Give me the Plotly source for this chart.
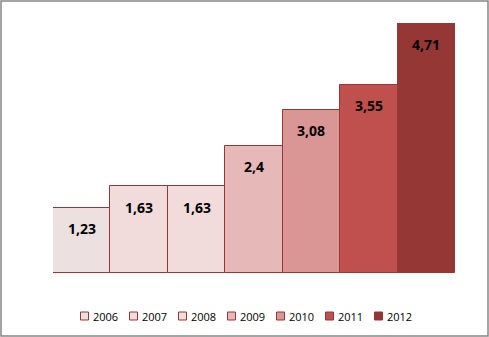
import plotly.graph_objects as go

years = ["2006", "2007", "2008", "2009", "2010", "2011", "2012"]
values = [1.23, 1.63, 1.63, 2.4, 3.08, 3.55, 4.71]
labels = ["1,23", "1,63", "1,63", "2,4", "3,08", "3,55", "4,71"]
colors = ["#ECE0E0", "#F2DCDB", "#F2DCDB", "#E6B9B8", "#D99694", "#C0504D", "#953735"]
outline = "#953735"

W, H = 489, 337
ml, mr, mt, mb = 53, 34, 23, 64
pw = W - ml - mr
ph = H - mt - mb


def px_x(p):
    return (p - ml) / pw


def px_y(p):
    return (H - mb - p) / ph


fig = go.Figure()
for i, (yr, v, c) in enumerate(zip(years, values, colors)):
    fig.add_trace(go.Bar(
        x=[i], y=[v], name=yr, width=1,
        marker=dict(color=c, line=dict(color=outline, width=1)),
        hoverinfo="skip", showlegend=False,
    ))
    fig.add_annotation(x=i, y=v, text="<b>%s</b>" % labels[i], showarrow=False,
                       yshift=-21, yanchor="middle",
                       font=dict(family="Open Sans", size=14, color="#000000"))
    # legend entry (manual, compact like the original)
    lx = 80 + 49 * i
    fig.add_shape(type="rect", xref="paper", yref="paper",
                  x0=px_x(lx + 0.5), x1=px_x(lx + 8.5),
                  y0=px_y(320), y1=px_y(312),
                  line=dict(color=outline, width=1), fillcolor=c)
    fig.add_annotation(xref="paper", yref="paper", x=px_x(lx + 11), y=px_y(316.5),
                       text=yr, showarrow=False, xanchor="left", yanchor="middle",
                       font=dict(family="Open Sans", size=11, color="#000000"))

fig.add_shape(type="rect", xref="paper", yref="paper",
              x0=px_x(1), x1=px_x(W - 1),
              y0=px_y(H - 1), y1=px_y(1),
              line=dict(color="#868686", width=1.5), fillcolor="rgba(0,0,0,0)", layer="below")

fig.update_layout(
    width=W, height=H,
    margin=dict(l=ml, r=mr, t=mt, b=mb, autoexpand=False),
    paper_bgcolor="white", plot_bgcolor="white",
    barmode="overlay", bargap=0,
    xaxis=dict(range=[-0.5, 6.5], visible=False),
    yaxis=dict(range=[0, 4.71], visible=False),
    showlegend=False,
    font=dict(family="Open Sans"),
)

fig.write_html("out.html")
